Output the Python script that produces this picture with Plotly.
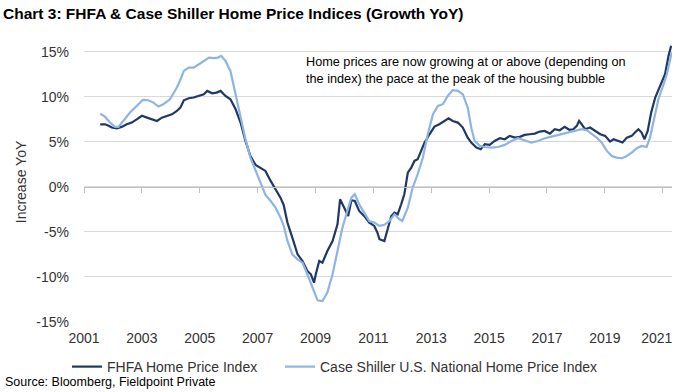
import plotly.graph_objects as go

# ---- data (decimal year, YoY %) ----
fhfa_year = [2001.56, 2001.73, 2001.85, 2001.96, 2002.13, 2002.30, 2002.48, 2002.65, 2002.82, 2003.00,
             2003.18, 2003.35, 2003.52, 2003.69, 2003.87, 2004.04, 2004.21, 2004.33, 2004.45, 2004.62,
             2004.79, 2004.97, 2005.14, 2005.26, 2005.43, 2005.58, 2005.72, 2005.89, 2006.06, 2006.24,
             2006.41, 2006.58, 2006.75, 2006.93, 2007.10, 2007.27, 2007.45, 2007.62, 2007.79, 2007.90,
             2008.03, 2008.20, 2008.38, 2008.55, 2008.72, 2008.84, 2008.95, 2009.01, 2009.13, 2009.24,
             2009.41, 2009.59, 2009.76, 2009.85, 2009.99, 2010.13, 2010.24, 2010.36, 2010.51, 2010.68,
             2010.86, 2011.03, 2011.14, 2011.21, 2011.38, 2011.50, 2011.62, 2011.73, 2011.84, 2011.96,
             2012.07, 2012.19, 2012.31, 2012.42, 2012.53, 2012.65, 2012.77, 2012.94, 2013.11, 2013.28,
             2013.46, 2013.60, 2013.74, 2013.92, 2014.09, 2014.26, 2014.39, 2014.56, 2014.71, 2014.85,
             2015.02, 2015.19, 2015.37, 2015.54, 2015.71, 2015.89, 2016.06, 2016.23, 2016.40, 2016.58,
             2016.75, 2016.92, 2017.10, 2017.27, 2017.44, 2017.61, 2017.77, 2017.91, 2018.03, 2018.11,
             2018.20, 2018.32, 2018.49, 2018.66, 2018.84, 2019.01, 2019.18, 2019.30, 2019.47, 2019.61,
             2019.76, 2019.93, 2020.04, 2020.16, 2020.27, 2020.37, 2020.48, 2020.60, 2020.74, 2020.91,
             2021.08, 2021.20, 2021.29]
fhfa_yoy = [6.96, 6.96, 6.80, 6.60, 6.50, 6.67, 6.96, 7.15, 7.50, 7.90,
            7.70, 7.50, 7.33, 7.70, 7.90, 8.07, 8.44, 8.81, 9.63, 9.85,
            9.93, 10.11, 10.30, 10.67, 10.40, 10.48, 10.67, 10.11, 9.74, 8.63,
            7.15, 5.11, 3.44, 2.44, 2.07, 1.78, 0.67, -0.26, -1.19, -2.00,
            -3.96, -5.63, -7.48, -8.22, -9.33, -9.70, -10.63, -9.70, -8.22, -8.41,
            -7.11, -6.00, -4.15, -1.37, -2.30, -3.22, -1.48, -1.56, -2.67, -3.22,
            -3.96, -4.33, -5.07, -5.81, -6.00, -4.70, -3.22, -2.85, -3.04, -1.93,
            -0.81, 1.59, 2.15, 2.89, 3.07, 4.00, 4.93, 5.85, 6.70, 6.96,
            7.33, 7.63, 7.33, 7.15, 6.60, 5.48, 4.90, 4.37, 4.19, 4.74,
            4.67, 5.11, 5.41, 5.30, 5.67, 5.48, 5.56, 5.78, 5.85, 5.93,
            6.15, 6.22, 5.93, 6.41, 6.30, 6.67, 6.35, 6.41, 6.78, 7.33,
            6.96, 6.41, 6.60, 6.22, 5.85, 5.67, 5.04, 5.30, 5.11, 4.93,
            5.48, 5.67, 6.04, 6.41, 6.04, 5.30, 6.22, 8.26, 9.93, 11.22,
            12.52, 14.56, 15.67]

cs_year = [2001.56, 2001.73, 2001.90, 2002.07, 2002.19, 2002.36, 2002.59, 2002.82, 2003.03, 2003.22,
           2003.40, 2003.57, 2003.74, 2003.97, 2004.21, 2004.33, 2004.45, 2004.62, 2004.79, 2004.97,
           2005.14, 2005.32, 2005.49, 2005.63, 2005.74, 2005.89, 2006.06, 2006.24, 2006.41, 2006.58,
           2006.75, 2006.93, 2007.10, 2007.27, 2007.45, 2007.62, 2007.79, 2007.90, 2008.03, 2008.20,
           2008.38, 2008.55, 2008.72, 2008.90, 2009.07, 2009.24, 2009.41, 2009.59, 2009.76, 2009.93,
           2010.10, 2010.24, 2010.36, 2010.51, 2010.68, 2010.86, 2011.03, 2011.21, 2011.38, 2011.56,
           2011.73, 2011.90, 2012.00, 2012.19, 2012.36, 2012.53, 2012.71, 2012.88, 2013.06, 2013.23,
           2013.40, 2013.57, 2013.74, 2013.92, 2014.09, 2014.26, 2014.39, 2014.50, 2014.68, 2014.85,
           2015.08, 2015.31, 2015.54, 2015.77, 2016.00, 2016.23, 2016.46, 2016.69, 2016.92, 2017.16,
           2017.38, 2017.61, 2017.85, 2017.97, 2018.20, 2018.37, 2018.55, 2018.72, 2018.89, 2019.07,
           2019.24, 2019.41, 2019.59, 2019.76, 2019.93, 2020.10, 2020.27, 2020.44, 2020.56, 2020.68,
           2020.85, 2021.03, 2021.14, 2021.26, 2021.31]
cs_yoy = [8.15, 7.78, 7.15, 6.67, 6.67, 7.33, 8.26, 9.00, 9.67, 9.63,
          9.37, 8.93, 9.19, 9.74, 11.04, 11.90, 12.89, 13.26, 13.26, 13.63,
          14.00, 14.37, 14.30, 14.37, 14.56, 14.00, 12.89, 10.30, 7.70, 5.30,
          3.26, 1.78, 0.30, -0.89, -1.56, -2.30, -3.40, -4.30, -6.00, -7.48,
          -8.04, -8.41, -9.70, -11.19, -12.59, -12.67, -11.74, -9.70, -7.11, -4.52,
          -2.67, -1.19, -0.81, -1.93, -2.85, -3.78, -3.96, -4.33, -4.20, -3.78,
          -3.04, -3.59, -3.78, -2.30, -0.07, 1.41, 3.26, 5.85, 8.07, 9.00,
          9.19, 10.11, 10.74, 10.67, 10.30, 8.81, 6.50, 5.11, 4.56, 4.44,
          4.37, 4.44, 4.67, 5.11, 5.41, 5.19, 4.93, 5.11, 5.41, 5.59,
          5.78, 5.93, 6.10, 6.22, 6.41, 6.30, 5.85, 5.48, 4.93, 4.00,
          3.44, 3.26, 3.19, 3.44, 3.81, 4.30, 4.56, 4.44, 5.48, 7.33,
          9.74, 11.41, 12.52, 14.19, 14.93]

y_ticks = [-15, -10, -5, 0, 5, 10, 15]
x_ticks = [2001, 2003, 2005, 2007, 2009, 2011, 2013, 2015, 2017, 2019, 2021]
x_labels = ["2001", "2003", "2005", "2007", "2009", "2011", "2013", "2015", "2017", "2019", "2021"]

FONT = "Liberation Sans"
W, H = 676, 392
ML, MR, MT, MB = 84, 4, 42, 70
X_RANGE = [2001, 2021.32]
Y_RANGE = [-15, 16.1]
plot_h = H - MT - MB
plot_w = W - ML - MR

fig = go.Figure()
fig.add_trace(go.Scatter(x=fhfa_year, y=fhfa_yoy, mode="lines", name="FHFA Home Price Index",
                         line=dict(color="#1F3864", width=2.2), legend="legend"))
fig.add_trace(go.Scatter(x=cs_year, y=cs_yoy, mode="lines",
                         name="Case Shiller U.S. National Home Price Index",
                         line=dict(color="#8EB4E3", width=2.2), legend="legend2"))

legend_common = dict(orientation="h", xref="container", yref="container", xanchor="left",
                     yanchor="middle", y=1 - 367 / H, itemwidth=30,
                     font=dict(family=FONT, size=14, color="#333333"),
                     bgcolor="rgba(0,0,0,0)", borderwidth=0)

tick_font = dict(family=FONT, size=14, color="#333333")

fig.update_layout(
    width=W, height=H,
    margin=dict(l=ML, r=MR, t=MT, b=MB, pad=0, autoexpand=False),
    paper_bgcolor="white", plot_bgcolor="white",
    font=dict(family=FONT, size=14, color="#333333"),
    hovermode=False,
    title=dict(text="<b>Chart 3: FHFA &amp; Case Shiller Home Price Indices (Growth YoY)</b>",
               xref="container", yref="container", x=3 / W, xanchor="left",
               y=1 - 14 / H, yanchor="middle", automargin=False,
               font=dict(family=FONT, size=15.5, color="#000000")),
    # bottom labels (all but the last year)
    xaxis=dict(range=X_RANGE, tickmode="array", tickvals=x_ticks[:-1], ticktext=x_labels[:-1],
               showgrid=False, zeroline=False, automargin=False,
               showline=False, ticks="", ticklabelstandoff=6,
               tickfont=tick_font),
    # zero line with tick marks
    xaxis2=dict(range=X_RANGE, overlaying="x", anchor="free", automargin=False,
                position=(0 - Y_RANGE[0]) / (Y_RANGE[1] - Y_RANGE[0]),
                tickmode="array", tickvals=x_ticks, showticklabels=False,
                showgrid=False, zeroline=False, showline=True, linecolor="#BFBFBF",
                linewidth=1, ticks="outside", ticklen=5, tickcolor="#BFBFBF", tickwidth=1),
    # last year label, nudged inward to stay inside the chart edge
    xaxis3=dict(range=X_RANGE, overlaying="x", anchor="y", side="bottom", automargin=False,
                tickmode="array", tickvals=x_ticks[-1:], ticktext=x_labels[-1:],
                showgrid=False, zeroline=False, showline=False, ticks="",
                ticklabelstandoff=6, ticklabelshift=-6, ticklabeloverflow="allow",
                tickfont=tick_font),
    yaxis=dict(range=Y_RANGE, tickmode="array", tickvals=y_ticks, automargin=False,
               ticktext=[f"{v}%" for v in y_ticks], showgrid=True, gridcolor="#D9D9D9",
               gridwidth=1, zeroline=False, showline=False, ticks="",
               ticklabelstandoff=14, tickfont=tick_font,
               title=dict(text="Increase YoY", standoff=6,
                          font=dict(size=14, color="#333333"))),
    legend=dict(x=67 / W, **legend_common),
    legend2=dict(x=280 / W, **legend_common),
    showlegend=True,
)

# invisible anchor traces so the overlay axes render
fig.add_trace(go.Scatter(x=[X_RANGE[0]], y=[0], xaxis="x2", mode="markers",
                         marker=dict(opacity=0), showlegend=False, hoverinfo="skip"))
fig.add_trace(go.Scatter(x=[X_RANGE[0]], y=[0], xaxis="x3", mode="markers",
                         marker=dict(opacity=0), showlegend=False, hoverinfo="skip"))

fig.add_annotation(
    text="Home prices are now growing at or above (depending on<br>the index) the pace at the peak of the housing bubble",
    xref="paper", yref="paper",
    x=(304 - ML) / plot_w, xanchor="left",
    y=(H - MB - 71) / plot_h, yanchor="middle",
    align="left", showarrow=False,
    font=dict(family=FONT, size=12.7, color="#000000"))

fig.add_annotation(
    text="Source: Bloomberg, Fieldpoint Private",
    xref="paper", yref="paper",
    x=(3 - ML) / plot_w, xanchor="left",
    y=(H - MB - 382) / plot_h, yanchor="middle",
    showarrow=False, align="left",
    font=dict(family=FONT, size=12.5, color="#000000"))

fig.write_html("out.html", config={"displayModeBar": False, "staticPlot": True},
               post_script="document.body.style.margin='0';document.body.style.overflow='hidden';")
